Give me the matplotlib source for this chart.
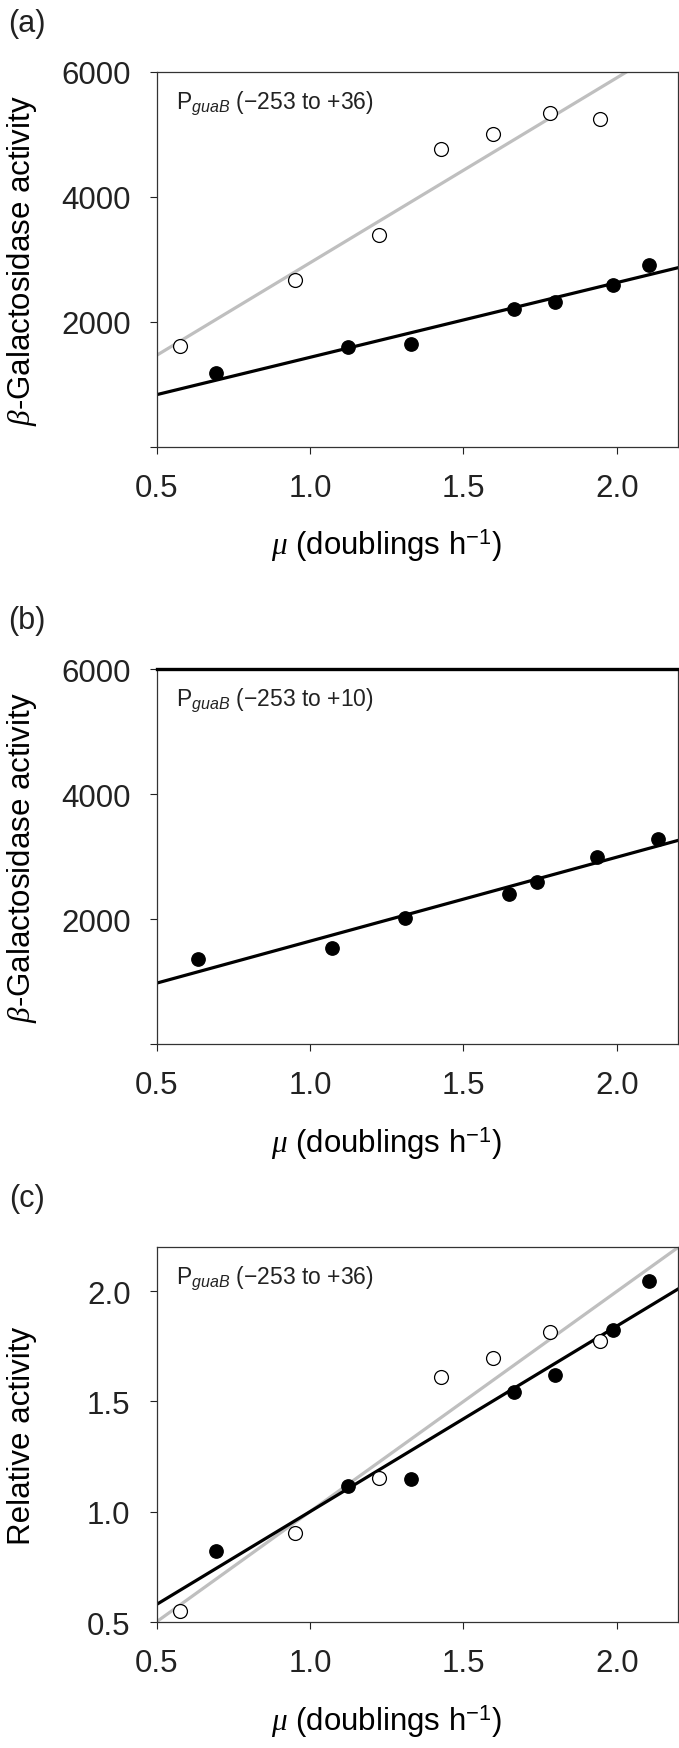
import numpy as np
import matplotlib.pyplot as plt

plt.rcParams['font.family'] = 'Liberation Sans'
plt.rcParams['mathtext.fontset'] = 'custom'
plt.rcParams['mathtext.rm'] = 'Liberation Sans'
plt.rcParams['mathtext.it'] = 'Liberation Serif:italic'
plt.rcParams['mathtext.sf'] = 'Liberation Sans:italic'

# growth rate (doublings per h)
mu_open = [0.575, 0.95, 1.226, 1.426, 1.595, 1.784, 1.945]
mu_filled = [0.691, 1.122, 1.329, 1.665, 1.798, 1.987, 2.107]
mu_b = [0.634, 1.071, 1.310, 1.647, 1.739, 1.936, 2.135]

# beta-galactosidase activity
gal_a_open = [1604, 2663, 3396, 4759, 5000, 5348, 5241]
gal_a_filled = [1176, 1588, 1647, 2203, 2316, 2594, 2914]
gal_b = [1366, 1538, 2009, 2400, 2598, 3000, 3279]

# relative activity
rel_open = [0.549, 0.906, 1.153, 1.613, 1.696, 1.814, 1.773]
rel_filled = [0.821, 1.115, 1.150, 1.543, 1.620, 1.824, 2.044]

panel_letters = ['(a)', '(b)', '(c)']
notes = [r'P$_{\mathsf{guaB}}$ (\u2212253 to +36)', r'P$_{\mathsf{guaB}}$ (\u2212253 to +10)',
         r'P$_{\mathsf{guaB}}$ (\u2212253 to +36)']
notes = [n.replace('\\u2212', '\u2212') for n in notes]

fig = plt.figure(figsize=(6.79, 17.49), dpi=100)

bottoms = [0.744, 0.4025, 0.072]
axes = [fig.add_axes([0.2312, b, 0.7673, 0.2144]) for b in bottoms]

xfit = np.array([0.5, 2.2])
gray = '#bfbfbf'


def fit_line(ax, x, y, color):
    p = np.polyfit(x, y, 1)
    ax.plot(xfit, np.polyval(p, xfit), color=color, lw=2.3, zorder=2)


def open_pts(ax, x, y):
    ax.plot(x, y, 'o', ms=10, mfc='white', mec='black', mew=0.9, zorder=3)


def filled_pts(ax, x, y):
    ax.plot(x, y, 'o', ms=9.6, mfc='black', mec='black', zorder=3)


ax = axes[0]
fit_line(ax, mu_open, gal_a_open, gray)
fit_line(ax, mu_filled, gal_a_filled, 'black')
open_pts(ax, mu_open, gal_a_open)
filled_pts(ax, mu_filled, gal_a_filled)

ax = axes[1]
fit_line(ax, mu_b, gal_b, 'black')
filled_pts(ax, mu_b, gal_b)

ax = axes[2]
fit_line(ax, mu_open, rel_open, gray)
fit_line(ax, mu_filled, rel_filled, 'black')
open_pts(ax, mu_open, rel_open)
filled_pts(ax, mu_filled, rel_filled)

for i, ax in enumerate(axes):
    ax.set_xlim(0.5, 2.2)
    ax.set_xticks([0.5, 1.0, 1.5, 2.0])
    ax.set_xticklabels(['0.5', '1.0', '1.5', '2.0'])
    if i < 2:
        ax.set_ylim(0, 6000)
        ax.set_yticks([0, 2000, 4000, 6000])
        ax.set_yticklabels(['', '2000', '4000', '6000'])
        ax.set_ylabel(r'$\beta$-Galactosidase activity', fontsize=22.5, va='center')
    else:
        ax.set_ylim(0.5, 2.2)
        ax.set_yticks([0.5, 1.0, 1.5, 2.0])
        ax.set_yticklabels(['0.5', '1.0', '1.5', '2.0'])
        ax.set_ylabel('Relative activity', fontsize=22.5, va='center')
    ax.yaxis.set_label_coords(-0.259, 0.5)
    ax.set_xlabel(r'$\mu$ (doublings h$^{-1}$)', fontsize=22.5, va='center')
    ax.xaxis.set_label_coords(0.44, -0.262)
    ax.tick_params(direction='out', length=5, width=0.8, pad=14,
                   labelsize=22.5, colors='#222222', labelcolor='#222222')
    for s in ax.spines.values():
        s.set_linewidth(0.9)
        s.set_color('#333333')
    ax.text(0.036, 0.92, notes[i], transform=ax.transAxes, fontsize=16.5,
            va='center', ha='left', color='#222222')
    ax.text(-0.25, 1.13, panel_letters[i], transform=ax.transAxes,
            fontsize=22, va='center', ha='center', color='#222222')

axes[1].spines['top'].set_linewidth(2.4)
axes[1].spines['top'].set_color('black')

fig.savefig('out.png', dpi=100)
